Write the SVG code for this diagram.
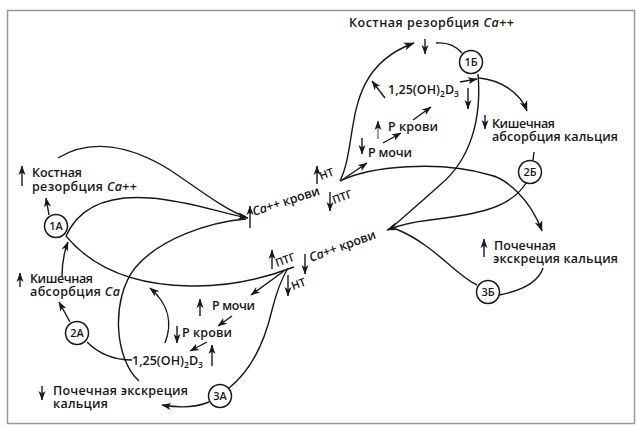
<svg xmlns="http://www.w3.org/2000/svg" width="636" height="427" viewBox="0 0 636 427">
<defs>
<marker id="ah" markerUnits="userSpaceOnUse" viewBox="0 0 10 8" markerWidth="12" markerHeight="8.5" refX="9.5" refY="4" orient="auto"><path d="M0,0.3 L10,4 L0,7.7 L2.5,4 Z" fill="#1a1718"/></marker>
<marker id="as" markerUnits="userSpaceOnUse" viewBox="0 0 10 8" markerWidth="10" markerHeight="7.5" refX="9.5" refY="4" orient="auto"><path d="M0,0.3 L10,4 L0,7.7 L2.5,4 Z" fill="#1a1718"/></marker>
</defs>
<style>
.c{fill:none;stroke:#1a1718;stroke-width:1.4}
.a{marker-end:url(#ah)}
.s{fill:none;stroke:#1a1718;stroke-width:1.4;marker-end:url(#as)}
.g{stroke:#777}
.t{font-family:"Open Sans","Noto Sans","DejaVu Sans",sans-serif;font-size:12.5px;font-weight:600;fill:#1a1718}
.n{font-size:11px;text-anchor:middle}
.r{font-size:11px}
.i{font-style:italic}
.nd{fill:#fff;stroke:#1a1718;stroke-width:1.5}
.sb{font-size:8.5px}
</style>
<rect x="7.5" y="10.5" width="627" height="413" fill="#fff" stroke="#999" stroke-width="1.5"/>

<g id="connectors">
<path class="c" d="M58,158 C90,138 130,145 170,170 C200,190 225,210 246,217"/>
<path class="c a" d="M66,236 C80,205 110,195 150,198 C190,201 220,213 248,218"/>
<path class="c" d="M139,381 C115,360 110,300 135,268 C160,238 210,222 246,219"/>
<path class="c" d="M66,236 C90,265 130,285 190,286 C230,287 265,278 294,267"/>
<path class="c" d="M229,388 C252,370 265,340 272,310 C277,290 282,278 288,268"/>
<path class="s" d="M284,271 L251,295"/>
<path class="s" d="M232,316 L218,326"/>
<path class="s" d="M207,342 L190,351"/>
<path class="s" d="M165,343 C172,325 170,305 150,288"/>
<path class="c" d="M87,342 C100,355 115,360 132,360"/>
<path class="s" d="M70,322 L59,302"/>
<path class="s" d="M62,277 C62,262 64,252 68,242"/>
<path class="s" d="M49,215 L46,198"/>
<path class="s" d="M209,402 C195,408 180,408 162,405"/>
<path class="c a" d="M340,181 C360,140 340,70 414,43"/>
<path class="c" d="M436,43 C447,42 456,46 462,53"/>
<path class="c" d="M478,74 C482,120 470,160 440,185 C420,203 400,220 390,229"/>
<path class="c a" d="M479,78 C500,80 520,92 527,111"/>
<path class="s" d="M460,82 L477,79"/>
<path class="s" d="M385,98 L372,81"/>
<path class="s" d="M468,88 L468,109"/>
<path class="s" d="M485,115 L485,129"/>
<path class="s" d="M383,143 L401,133"/>
<path class="s" d="M413,120 L431,107"/>
<path class="s" d="M342,180 L367,163"/>
<path class="c a" d="M340,181 C370,166 440,160 490,175 C505,178 530,198 542,231"/>
<path class="c a" d="M526,183 C510,210 470,215 430,220 C412,222 400,225 387,230"/>
<path class="c" d="M477,285 C455,275 435,245 396,229"/>
<path class="c" d="M499,295 C520,291 538,283 543,268"/>
<path class="c" d="M533,160 L534,152"/>
<path class="s" d="M425,39 L425,54"/>
<path class="s" d="M22,186 L22,166"/>
<path class="s" d="M20,287 L20,273"/>
<path class="s" d="M42,386 L42,400"/>
<path class="s" d="M484,257 L484,239"/>
<path class="s" d="M362,138 L362,154"/>
<path class="s g" d="M378,139 L378,121"/>
<path class="s" d="M200,316 L200,299"/>
<path class="s" d="M177,326 L177,343"/>
<path class="s" d="M212,366 L212,345"/>
<path class="s" d="M250,228 L250,206"/>
<path class="s" d="M317,184 L317,166"/>
<path class="s" d="M330,192 L330,211"/>
<path class="s" d="M272,269 L272,250"/>
<path class="s" d="M305,254 L305,274"/>
<path class="s" d="M288,275 L288,296"/>
</g>

<g id="n1A"><circle class="nd" cx="56" cy="226" r="11.5"/><text class="t n" x="56" y="230">1А</text></g>
<g id="n2A"><circle class="nd" cx="77" cy="333" r="11.5"/><text class="t n" x="77" y="337">2А</text></g>
<g id="n3A"><circle class="nd" cx="220" cy="396" r="11.5"/><text class="t n" x="220" y="400">3А</text></g>
<g id="n1B"><circle class="nd" cx="471" cy="62" r="11.5"/><text class="t n" x="471" y="66">1Б</text></g>
<g id="n2B"><circle class="nd" cx="530" cy="172" r="11.5"/><text class="t n" x="530" y="176">2Б</text></g>
<g id="n3B"><circle class="nd" cx="488" cy="292" r="11.5"/><text class="t n" x="488" y="296">3Б</text></g>

<g id="labels">
<text class="t" x="349" y="27" textLength="165">Костная резорбция <tspan class="i">Ca</tspan>++</text>
<text class="t"><tspan x="32" y="177" textLength="50">Костная</tspan><tspan x="32" y="191" textLength="105">резорбция <tspan class="i">Ca</tspan>++</tspan></text>
<text class="t"><tspan x="30" y="283" textLength="63">Кишечная</tspan><tspan x="30" y="296" textLength="90">абсорбция <tspan class="i">Ca</tspan></tspan></text>
<text class="t"><tspan x="53" y="395" textLength="135">Почечная экскреция</tspan><tspan x="53" y="408" textLength="55">кальция</tspan></text>
<text class="t"><tspan x="494" y="250" textLength="62">Почечная</tspan><tspan x="493" y="263" textLength="125">экскреция кальция</tspan></text>
<text class="t"><tspan x="492" y="128" textLength="63">Кишечная</tspan><tspan x="492" y="141" textLength="126">абсорбция кальция</tspan></text>
<text class="t" x="388" y="94">1,25(OH)<tspan class="sb" dy="2.5">2</tspan><tspan dy="-2.5">D</tspan><tspan class="sb" dy="2.5">3</tspan></text>
<text class="t" x="388" y="131" textLength="50">P крови</text>
<text class="t" x="368" y="157" textLength="44">P мочи</text>
<text class="t" x="212" y="310" textLength="43">P мочи</text>
<text class="t" x="182" y="337" textLength="50">P крови</text>
<text class="t" x="132" y="365">1,25(OH)<tspan class="sb" dy="2.5">2</tspan><tspan dy="-2.5">D</tspan><tspan class="sb" dy="2.5">3</tspan></text>
<text class="t" transform="translate(254,216) rotate(-18)" textLength="70"><tspan class="i">Ca</tspan>++ крови</text>
<text class="t r" transform="translate(321,180) rotate(-20)">НТ</text>
<text class="t r" transform="translate(334,204) rotate(-20)">ПТГ</text>
<text class="t r" transform="translate(277,267) rotate(-20)">ПТГ</text>
<text class="t" transform="translate(311,262) rotate(-20)" textLength="70"><tspan class="i">Ca</tspan>++ крови</text>
<text class="t r" transform="translate(293,290) rotate(-20)">НТ</text>
</g>
</svg>
